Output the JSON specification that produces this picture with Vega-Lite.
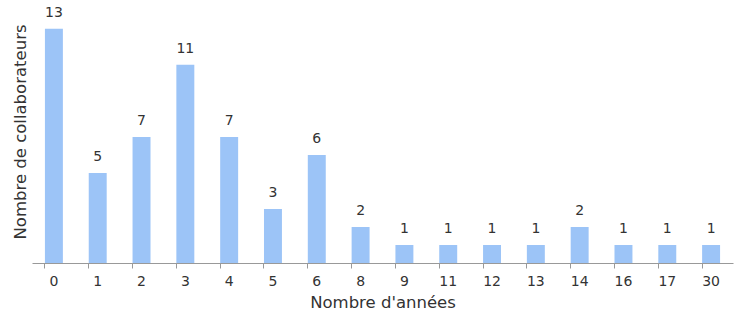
{
  "$schema": "https://vega.github.io/schema/vega-lite/v6.json",
  "autosize": "none",
  "width": 701,
  "height": 263,
  "padding": {"left": 32, "top": 0, "right": 1, "bottom": 53},
  "background": "white",
  "config": {"view": {"stroke": null}, "font": "DejaVu Sans"},
  "data": {"values": [
    {"annees": "0", "n": 13}, {"annees": "1", "n": 5}, {"annees": "2", "n": 7},
    {"annees": "3", "n": 11}, {"annees": "4", "n": 7}, {"annees": "5", "n": 3},
    {"annees": "6", "n": 6}, {"annees": "8", "n": 2}, {"annees": "9", "n": 1},
    {"annees": "11", "n": 1}, {"annees": "12", "n": 1}, {"annees": "13", "n": 1},
    {"annees": "14", "n": 2}, {"annees": "16", "n": 1}, {"annees": "17", "n": 1},
    {"annees": "30", "n": 1}
  ]},
  "encoding": {
    "x": {
      "field": "annees", "type": "ordinal", "sort": null,
      "scale": {"paddingInner": 0.59, "paddingOuter": 0.295},
      "axis": {
        "title": "Nombre d'années", "titleFontSize": 16.5, "titleFontWeight": "normal",
        "titleColor": "#333", "titlePadding": 6,
        "labelAngle": 0, "labelFontSize": 14, "labelColor": "#333", "labelPadding": 6,
        "bandPosition": 0, "tickSize": 5, "tickColor": "#999", "domainColor": "#999",
        "grid": false
      }
    },
    "y": {
      "field": "n", "type": "quantitative",
      "scale": {"domain": [0, 14.6], "nice": false},
      "axis": {
        "title": "Nombre de collaborateurs", "titleFontSize": 16.5, "titleFontWeight": "normal",
        "titleColor": "#333", "titlePadding": 4,
        "labels": false, "ticks": false, "domain": false, "grid": false
      }
    }
  },
  "layer": [
    {"mark": {"type": "bar", "color": "#9cc4f7"}},
    {"mark": {"type": "text", "dy": -16, "fontSize": 14, "color": "#333"},
     "encoding": {"text": {"field": "n", "type": "quantitative"}}}
  ]
}
